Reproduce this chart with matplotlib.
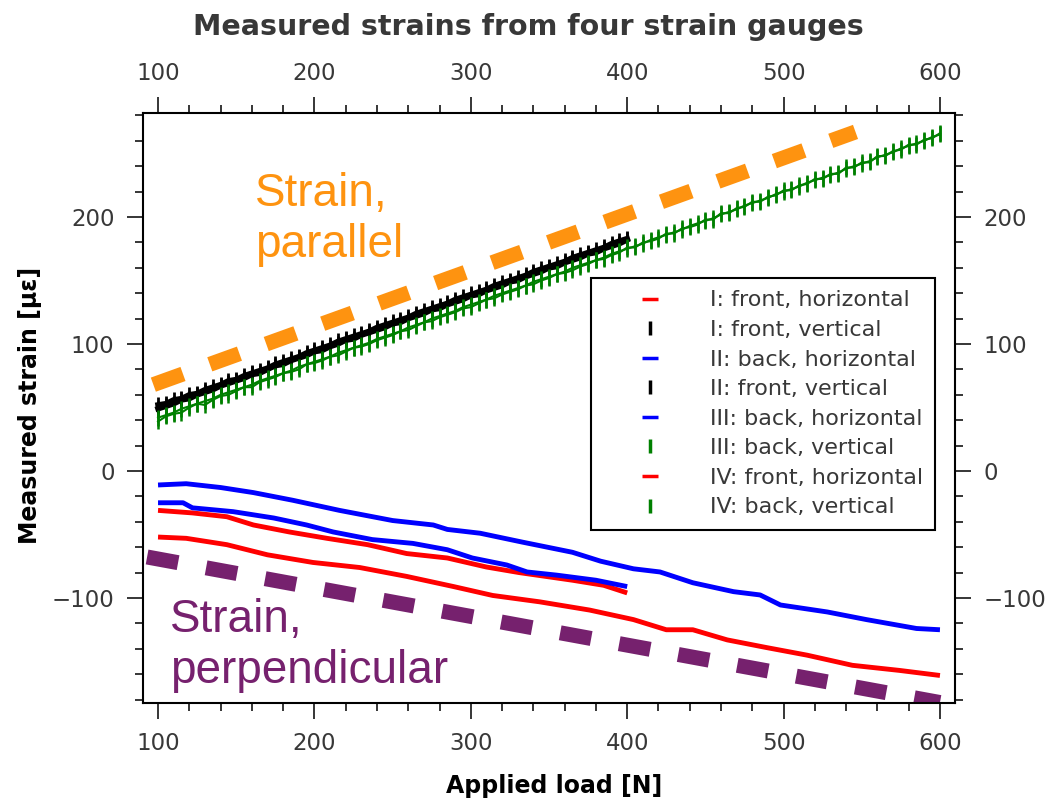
import numpy as np
import matplotlib
matplotlib.use("Agg")
import matplotlib.pyplot as plt
from matplotlib.lines import Line2D
from matplotlib.ticker import MultipleLocator

# ---------------------------------------------------------------------------
# Data
# ---------------------------------------------------------------------------

# horizontal gauges: (load [N], strain [µε])
h1_x = [100, 122, 144, 161, 184, 208, 234, 259, 285, 310, 331, 365, 385, 400]
h1_y = [-31, -33, -36, -42.5, -48, -53, -58, -65, -68.5, -75.6, -80, -86, -90, -96]

h2_x = [100, 116, 122, 148, 174, 195, 212, 237, 263, 285, 301, 323, 336, 355, 380, 400]
h2_y = [-25, -25, -29, -32, -37, -42.5, -48, -54, -57, -62, -68.5, -74, -79.5, -82, -86, -91]

h3_x = [100, 118, 140, 161, 186, 216, 250, 276, 285, 306, 333, 365, 383, 404,
        421, 442, 468, 485, 498, 528, 553, 585, 600]
h3_y = [-11, -10, -13, -17, -23, -31, -39, -42.5, -46, -49, -56, -64, -71, -77,
        -79.5, -88, -95, -97.6, -105.5, -111, -117, -124, -125]

h4_x = [100, 118, 144, 170, 199, 229, 259, 289, 314, 344, 376, 404, 425, 442,
        464, 489, 515, 544, 574, 600]
h4_y = [-52, -53, -58, -66, -72, -76, -83, -91, -98, -103, -109.5, -117, -125, -125,
        -133, -139, -145, -153, -157, -161]

# vertical gauges, sampled every 5 N
load_to_400 = np.arange(100, 405, 5)
load_to_600 = np.arange(100, 605, 5)

v1_y = [49, 51, 53, 56, 57, 60, 62, 64, 67, 69,
        71, 73, 76, 77, 80, 83, 84, 87, 89, 91,
        94, 95, 98, 100, 103, 104, 107, 109, 111, 113,
        116, 117, 120, 122, 124, 127, 128, 131, 133, 135,
        138, 139, 142, 144, 146, 149, 150, 153, 155, 157,
        160, 161, 164, 166, 168, 171, 172, 175, 177, 179,
        182]
v2_y = [52, 53, 56, 57, 60, 61, 64, 66, 68, 71,
        72, 75, 77, 79, 81, 84, 86, 88, 90, 93,
        95, 97, 99, 102, 104, 106, 108, 110, 113, 115,
        117, 119, 121, 124, 126, 128, 130, 132, 135, 137,
        139, 141, 143, 146, 148, 150, 152, 154, 157, 159,
        161, 163, 165, 168, 170, 172, 174, 176, 179, 181,
        183]
v3_y = [42, 44, 46, 49, 51, 53, 55, 57, 60, 62,
        64, 66, 68, 71, 73, 75, 77, 79, 82, 84,
        86, 88, 90, 93, 95, 97, 99, 101, 104, 106,
        108, 110, 113, 115, 117, 120, 122, 124, 126, 129,
        131, 133, 135, 138, 140, 142, 144, 146, 149, 151,
        153, 155, 157, 160, 162, 164, 166, 168, 171, 173,
        175, 177, 179, 182, 184, 186, 188, 190, 193, 195,
        197, 199, 202, 204, 206, 209, 211, 213, 215, 218,
        220, 222, 224, 227, 229, 231, 233, 235, 238, 240,
        242, 244, 247, 249, 251, 254, 256, 258, 260, 263,
        265]
v4_y = [39, 43, 45, 46, 50, 53, 52, 56, 59, 60,
        63, 66, 66, 70, 72, 74, 77, 78, 80, 84,
        85, 87, 90, 91, 94, 97, 98, 100, 103, 105,
        107, 110, 111, 114, 117, 118, 121, 123, 125, 128,
        129, 132, 135, 136, 139, 141, 143, 146, 147, 150,
        152, 155, 156, 158, 161, 163, 166, 167, 170, 172,
        176, 176, 180, 181, 183, 187, 187, 191, 192, 194,
        198, 198, 203, 203, 207, 208, 212, 212, 216, 217,
        221, 221, 225, 226, 230, 230, 234, 234, 239, 239,
        243, 243, 248, 248, 252, 253, 257, 257, 261, 262,
        266]

labels = ["I: front, horizontal", "I: front, vertical",
          "II: back, horizontal", "II: front, vertical",
          "III: back, horizontal", "III: back, vertical",
          "IV: front, horizontal", "IV: back, vertical"]

# hand-drawn guide lines
par_x, par_y = [97, 546], [68, 267]
perp_x, perp_y = [93, 600], [-67.7, -182.3]

ORANGE = '#fe9310'
PURPLE = '#76216e'
TXT = '#383838'

# ---------------------------------------------------------------------------
# Plot
# ---------------------------------------------------------------------------

fig = plt.figure(figsize=(10.47, 8.02), dpi=100)
ax = fig.add_axes([0.1366, 0.1234, 0.9121 - 0.1366, 0.8591 - 0.1234])

hkw = dict(lw=3.5, solid_capstyle='butt')

ax.plot(h1_x, h1_y, color='red', **hkw)
ax.plot(load_to_400, v1_y, color='black', lw=4, marker='|', ms=12, mew=2)
ax.plot(h2_x, h2_y, color='blue', **hkw)
ax.plot(load_to_400, v2_y, color='black', lw=4, marker='|', ms=12, mew=2)
ax.plot(h3_x, h3_y, color='blue', **hkw)
ax.plot(load_to_600, v3_y, color='green', lw=1.5, marker='|', ms=11, mew=1.8)
ax.plot(h4_x, h4_y, color='red', **hkw)
ax.plot(load_to_600, v4_y, color='green', lw=1.5, marker='|', ms=11, mew=1.8)

ax.plot(par_x, par_y, color=ORANGE, lw=10.8, linestyle=(0, (2.1, 1.9)),
        dash_capstyle='butt')
ax.plot(perp_x, perp_y, color=PURPLE, lw=10.8, linestyle=(0, (2.1, 1.9)),
        dash_capstyle='butt')

ax.text(0.138, 0.739, "Strain,\nparallel", transform=ax.transAxes,
        color=ORANGE, fontsize=33, family='Liberation Sans', va='bottom', ha='left')
ax.text(0.033, 0.017, "Strain,\nperpendicular", transform=ax.transAxes,
        color=PURPLE, fontsize=33, family='Liberation Sans', va='bottom', ha='left')

ax.set_xlim(90.4, 609.6)
ax.set_ylim(-182.7, 281.9)
ax.xaxis.set_major_locator(MultipleLocator(100))
ax.xaxis.set_minor_locator(MultipleLocator(20))
ax.yaxis.set_major_locator(MultipleLocator(100))
ax.yaxis.set_minor_locator(MultipleLocator(20))
ax.tick_params(which='both', direction='out', top=True, right=True,
               labeltop=True, labelright=True, width=1.1, color='black',
               labelsize=16.5, labelcolor=TXT, pad=9)
ax.tick_params(which='major', length=11.5)
ax.tick_params(which='minor', length=5.8)
for sp in ax.spines.values():
    sp.set_linewidth(1.5)

handles = []
for lab, c, m in zip(labels,
                     ['red', 'black', 'blue', 'black', 'blue', 'green', 'red', 'green'],
                     ['_', '|', '_', '|', '_', '|', '_', '|']):
    handles.append(Line2D([], [], color=c, marker=m, linestyle='none',
                          ms=10 if m == '|' else 12, mew=2.5))
leg = ax.legend(handles, labels, loc='upper left', bbox_to_anchor=(0.552, 0.720),
                borderaxespad=0, fontsize=16, handlelength=4.2, handletextpad=0.6,
                labelspacing=0.43, borderpad=0.55, fancybox=False, framealpha=1,
                edgecolor='black', labelcolor=TXT)
leg.get_frame().set_linewidth(1.5)

fig.text(0.505, 0.966, "Measured strains from four strain gauges", ha='center',
         va='center', fontsize=20.5, fontweight='bold', color=TXT)
fig.text(0.529, 1 - 786 / 802, "Applied load [N]", ha='center', va='center',
         fontsize=17, fontweight='bold', color='black')
fig.text(30 / 1047, 1 - 405 / 802, "Measured strain [µε]", ha='center', va='center',
         rotation=90, fontsize=17, fontweight='bold', color='black')

fig.savefig("out.png", dpi=100, facecolor='white')
